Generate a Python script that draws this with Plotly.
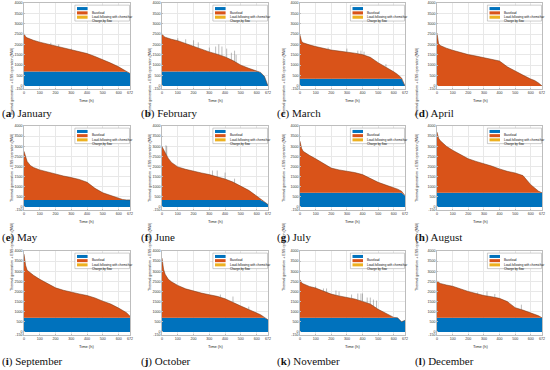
import numpy as np
import plotly.graph_objects as go

hours = [0, 5, 10, 20, 40, 60, 100, 150, 200, 250, 300, 350, 400, 450, 500, 550, 600, 625, 650, 672]

jan = [2520, 2420, 2370, 2320, 2250, 2200, 2110, 2020, 1930, 1830, 1750, 1670, 1560, 1420, 1270, 1100, 920, 800, 680, 600]
feb = [2520, 2440, 2400, 2350, 2290, 2250, 2180, 2040, 1900, 1760, 1640, 1530, 1400, 1220, 1000, 850, 720, 650, 450, 0]
mar = [2450, 2250, 2150, 2080, 2020, 1980, 1900, 1810, 1730, 1680, 1640, 1580, 1510, 1380, 1120, 920, 680, 550, 380, 0]
apr = [2550, 2200, 2050, 1950, 1880, 1820, 1720, 1600, 1510, 1440, 1370, 1300, 1200, 920, 700, 520, 330, 260, 140, 0]
may = [2750, 2600, 2450, 2250, 2050, 1950, 1830, 1720, 1620, 1530, 1450, 1360, 1220, 920, 700, 560, 430, 370, 350, 350]
jun = [2980, 2900, 2800, 2650, 2400, 2200, 1980, 1860, 1760, 1680, 1600, 1500, 1380, 1230, 1020, 820, 540, 380, 250, 120]
jul = [3250, 3050, 2900, 2750, 2640, 2550, 2380, 2130, 1920, 1830, 1780, 1700, 1600, 1400, 1220, 1080, 950, 880, 780, 560]
aug = [3700, 3500, 3400, 3280, 3120, 3000, 2800, 2580, 2380, 2250, 2150, 2020, 1880, 1760, 1680, 1550, 1100, 920, 780, 700]
sep = [3850, 3500, 3300, 3050, 2900, 2800, 2600, 2400, 2180, 2060, 1960, 1880, 1800, 1680, 1520, 1380, 1180, 1080, 950, 780]
oct_ = [3650, 3300, 3100, 2850, 2600, 2480, 2300, 2130, 2010, 1920, 1840, 1760, 1640, 1480, 1280, 1110, 940, 850, 720, 600]
nov = [2580, 2480, 2430, 2380, 2300, 2250, 2170, 2000, 1870, 1780, 1700, 1630, 1510, 1380, 1120, 900, 720, 700, 500, 580]
dec = [2530, 2480, 2450, 2400, 2350, 2320, 2260, 2120, 2000, 1900, 1800, 1740, 1660, 1500, 1200, 1080, 950, 880, 800, 700]

baseload = [700, 700, 350, 0, 350, 350, 700, 700, 700, 700, 700, 700]

spike_hours = {
    0: [170, 220, 300],
    1: [100, 150, 200, 230, 300, 340, 360, 380, 410, 440, 460, 470],
    2: [180, 300, 370, 390, 410, 550],
    5: [25, 30, 320, 350, 400, 460],
    9: [370, 450, 550],
    10: [100, 150, 170, 230, 250, 330, 370, 390, 400, 430, 450, 470, 490],
    11: [260, 320, 370, 540],
}
spike_tops = {
    0: [2080, 2000, 1800],
    1: [2300, 2250, 2200, 2100, 1850, 1900, 2000, 1900, 1800, 1600, 1700, 1500],
    2: [1850, 1800, 1700, 1700, 1650, 1050],
    5: [3050, 3000, 1800, 1800, 1700, 1400],
    9: [1850, 1750, 1250],
    10: [2250, 2150, 2150, 2050, 2000, 1850, 1900, 1900, 1900, 1700, 1700, 1600, 1550],
    11: [1950, 2000, 1880, 1350],
}

totals = [jan, feb, mar, apr, may, jun, jul, aug, sep, oct_, nov, dec]
captions_letter = ["a", "b", "c", "d", "e", "f", "g", "h", "i", "j", "k", "l"]
captions_month = ["January", "February", "March", "April", "May", "June", "July",
                  "August", "September", "October", "November", "December"]

x_ticks = [0, 100, 200, 300, 400, 500, 600, 672]
y_ticks = [-150, 0, 500, 1000, 1500, 2000, 2500, 3000, 3500, 4000]
legend_names = ["Baseload", "Load-following with chemichar", "Charge by flow"]
colors = ["#0072BD", "#D95319", "#EDB120"]

W, H = 550, 370
col_x = [(24, 130), (162, 268), (300, 405), (437, 542)]
row_y = [(3, 89), (126, 210), (251, 335)]
cap_x = [0, 139, 275, 413]
cap_y = [113, 237, 361]

fig = go.Figure()
layout = dict(width=W, height=H, margin=dict(l=0, r=0, t=0, b=0),
              paper_bgcolor="white", plot_bgcolor="white", showlegend=False)
shapes = []
annotations = []
tick_font = dict(size=3.6, color="#333333", family="Liberation Sans")

for i in range(12):
    r, c = divmod(i, 4)
    n = "" if i == 0 else str(i + 1)
    xa, ya = "x" + n, "y" + n
    h = np.array(hours, dtype=float)
    tot = np.array(totals[i], dtype=float)
    base = np.minimum(baseload[i], tot)
    fig.add_trace(go.Scatter(x=h, y=base, mode="lines", fill="tozeroy",
                             fillcolor=colors[0], line=dict(width=0, color=colors[0]),
                             xaxis=xa, yaxis=ya))
    fig.add_trace(go.Scatter(x=h, y=tot, mode="lines", fill="tonexty",
                             fillcolor=colors[1], line=dict(width=0.5, color="#6a3012"),
                             xaxis=xa, yaxis=ya))
    if i in spike_hours:
        sx, sy = [], []
        for sh, st in zip(spike_hours[i], spike_tops[i]):
            b = float(np.interp(sh, h, tot))
            sx += [sh, sh, None]
            sy += [b, st, None]
        fig.add_trace(go.Scatter(x=sx, y=sy, mode="lines",
                                 line=dict(width=0.4, color="#555555"),
                                 xaxis=xa, yaxis=ya))
    x0, x1 = col_x[c]
    y0, y1 = row_y[r]
    axkey = "xaxis" + n
    aykey = "yaxis" + n
    common = dict(showgrid=True, gridcolor="#e8e8e8", gridwidth=0.5,
                  showline=True, linecolor="#bdbdbd", linewidth=0.5, mirror=True,
                  ticks="inside", ticklen=1, tickcolor="#bdbdbd",
                  tickfont=tick_font, zeroline=False, fixedrange=True, automargin=False)
    layout[axkey] = dict(domain=[x0 / W, x1 / W], anchor=ya, range=[0, 672],
                         tickvals=x_ticks, ticktext=[str(v) for v in x_ticks], **common)
    layout[aykey] = dict(domain=[1 - y1 / H, 1 - y0 / H], anchor=xa, range=[-150, 4000],
                         tickvals=y_ticks, ticktext=[str(v) for v in y_ticks], **common)
    # axis titles
    annotations.append(dict(x=(x0 + x1) / 2 / W, y=1 - (y1 + 11) / H, xref="paper", yref="paper",
                            text="Time (h)", showarrow=False, yanchor="middle",
                            font=dict(size=4, color="#222222", family="Liberation Sans")))
    annotations.append(dict(x=(x0 - 16) / W, y=1 - (y0 + y1) / 2 / H, xref="paper", yref="paper",
                            text="Thermal generation + ESS operation (MW)", textangle=-90,
                            showarrow=False,
                            font=dict(size=3.6, color="#222222", family="Liberation Sans")))
    # legend box
    dref = xa + " domain"
    yref = ya + " domain"
    shapes.append(dict(type="rect", xref=dref, yref=yref, x0=0.48, x1=0.995, y0=0.79, y1=0.975,
                       line=dict(width=0.5, color="#9a9a9a"), fillcolor="white", layer="above"))
    for k in range(3):
        yc = 0.935 - k * 0.05
        shapes.append(dict(type="rect", xref=dref, yref=yref, x0=0.50, x1=0.60,
                           y0=yc - 0.018, y1=yc + 0.018,
                           line=dict(width=0), fillcolor=colors[k], layer="above"))
        annotations.append(dict(x=0.62, y=yc, xref=dref, yref=yref, xanchor="left",
                                text=legend_names[k], showarrow=False,
                                font=dict(size=3, color="#111111", family="Liberation Sans")))
    # caption
    annotations.append(dict(x=cap_x[c] / W, y=1 - cap_y[r] / H, xref="paper", yref="paper",
                            xanchor="left", yanchor="middle", showarrow=False,
                            text="(<b>" + captions_letter[i] + "</b>) " + captions_month[i],
                            font=dict(size=11, color="#111111", family="Liberation Serif")))

layout["shapes"] = shapes
layout["annotations"] = annotations
fig.update_layout(**layout)
fig.write_html("out.html", config={"displayModeBar": False},
               post_script="document.body.style.margin='0';document.body.style.overflow='hidden';")
